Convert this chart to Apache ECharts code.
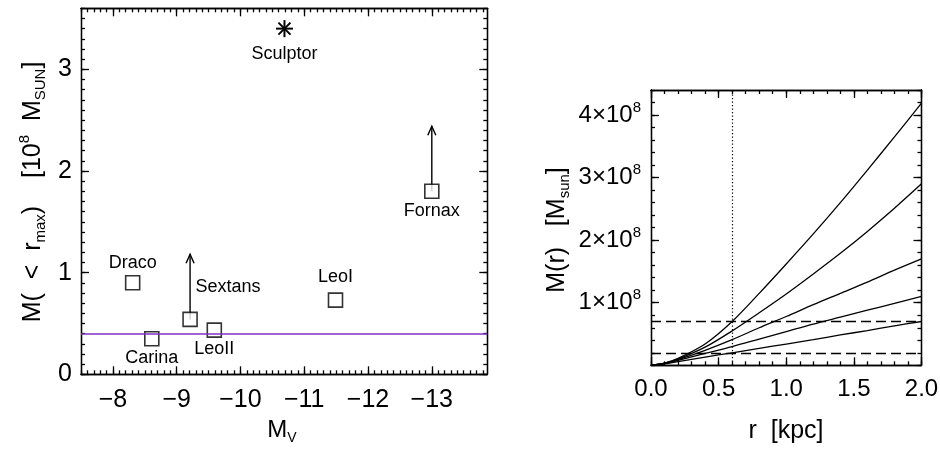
<!DOCTYPE html>
<html><head><meta charset="utf-8">
<script src="https://cdn.jsdelivr.net/npm/echarts@6/dist/echarts.min.js"></script>
<style>html,body{margin:0;padding:0;background:#fff}#c{width:940px;height:449px}</style>
</head><body><div id="c"></div>
<script>
// ---------- Left panel data (mass in 1e8 Msun) ----------
const galaxies = ['Draco', 'Carina', 'Sextans', 'LeoII', 'LeoI', 'Fornax'];
const galaxyMv = [-8.31, -8.61, -9.21, -9.59, -11.49, -13.0];
const galaxyMass = [0.90, 0.35, 0.54, 0.435, 0.73, 1.80];
const sculptorName = ['Sculptor'];
const sculptorMv = [-10.69];
const sculptorMass = [3.40];
const arrowMv = [-9.21, -13.0];
const arrowFrom = [0.54, 1.80];
const arrowTo = [1.18, 2.44];
const massThreshold = [0.40];
const leftXTicks = [-8, -9, -10, -11, -12, -13];
const leftYTicks = [0, 1, 2, 3];

// ---------- Right panel data (mass in 1e8 Msun) ----------
const radius = [0, 0.1, 0.2, 0.4, 0.6, 0.8, 1.0, 1.2, 1.4, 1.6, 1.8, 2.0];
const massCurve1 = [0, 0.035, 0.11, 0.34, 0.70, 1.15, 1.62, 2.10, 2.60, 3.12, 3.65, 4.19];
const massCurve2 = [0, 0.033, 0.10, 0.29, 0.55, 0.84, 1.14, 1.46, 1.79, 2.14, 2.51, 2.90];
const massCurve3 = [0, 0.030, 0.09, 0.24, 0.41, 0.60, 0.78, 0.97, 1.15, 1.33, 1.52, 1.70];
const massCurve4 = [0, 0.028, 0.08, 0.19, 0.30, 0.42, 0.54, 0.66, 0.77, 0.88, 0.99, 1.10];
const massCurve5 = [0, 0.025, 0.06, 0.13, 0.20, 0.27, 0.34, 0.41, 0.485, 0.555, 0.63, 0.70];
const massLimits = [0.2, 0.7];
const rLimit = [0.6];
const rightXTicks = [0, 0.5, 1.0, 1.5, 2.0];
const rightYTicks = [1, 2, 3, 4];

// ---------- styling ----------
const FONT = "'Liberation Sans', Arial, sans-serif";
const AX = { color: '#000', width: 1.3 };
const PURPLE = '#7b32c4';
const labelPlacement = {
  Draco: [0, -20], Carina: [0, 19], Sextans: [38, -32],
  LeoII: [0, 19], LeoI: [0, -23], Fornax: [0, 20]
};
const rich = {
  m: { fontSize: 24, lineHeight: 30, fontFamily: FONT, color: '#000' },
  s: { fontSize: 14, lineHeight: 14, verticalAlign: 'bottom', fontFamily: FONT, color: '#000' },
  p: { fontSize: 15, lineHeight: 15, verticalAlign: 'top', fontFamily: FONT, color: '#000' }
};
const richBig = {
  m: { fontSize: 25, lineHeight: 31, fontFamily: FONT, color: '#000' },
  s: { fontSize: 15, lineHeight: 15, verticalAlign: 'bottom', fontFamily: FONT, color: '#000' },
  p: { fontSize: 15, lineHeight: 15, verticalAlign: 'top', fontFamily: FONT, color: '#000' }
};

function steps(min, max, step) {
  const out = [];
  const start = Math.ceil(min / step - 1e-9);
  const end = Math.floor(max / step + 1e-9);
  for (let k = start; k <= end; k++) out.push(+(k * step).toFixed(6));
  return out;
}
function mkAxis(grid, pos, min, max, inverse, ticks, len, labelCfg) {
  return {
    type: 'value', gridIndex: grid, position: pos, min: min, max: max, inverse: !!inverse,
    axisLine: { show: true, onZero: false, lineStyle: AX },
    axisTick: { show: true, inside: true, length: len, customValues: ticks, lineStyle: AX },
    axisLabel: labelCfg ? Object.assign({ show: true, fontFamily: FONT, color: '#000', customValues: ticks }, labelCfg) : { show: false },
    splitLine: { show: false }, minorTick: { show: false }, minorSplitLine: { show: false }
  };
}

const LX = [-13.87, -7.5], LY = [0, 3.6], RX = [0, 2], RY = [0, 4.4];
const lxMinor = steps(LX[0], LX[1], 0.1), lyMinor = steps(LY[0], LY[1], 0.1);
const rxMinor = steps(RX[0], RX[1], 0.1), ryMinor = steps(RY[0], RY[1], 0.2);

const xAxes = [
  mkAxis(0, 'bottom', LX[0], LX[1], true, leftXTicks, 8, { fontSize: 25, margin: 13, formatter: v => '\u2212' + Math.abs(v) }),
  mkAxis(0, 'bottom', LX[0], LX[1], true, lxMinor, 4),
  mkAxis(0, 'top', LX[0], LX[1], true, leftXTicks, 8),
  mkAxis(0, 'top', LX[0], LX[1], true, lxMinor, 4),
  mkAxis(1, 'bottom', RX[0], RX[1], false, rightXTicks, 8, { fontSize: 24, margin: 12, formatter: v => v.toFixed(1) }),
  mkAxis(1, 'bottom', RX[0], RX[1], false, rxMinor, 4),
  mkAxis(1, 'top', RX[0], RX[1], false, rightXTicks, 8),
  mkAxis(1, 'top', RX[0], RX[1], false, rxMinor, 4)
];
const yAxes = [
  mkAxis(0, 'left', LY[0], LY[1], false, leftYTicks, 8, { fontSize: 25, margin: 9 }),
  mkAxis(0, 'left', LY[0], LY[1], false, lyMinor, 4),
  mkAxis(0, 'right', LY[0], LY[1], false, leftYTicks, 8),
  mkAxis(0, 'right', LY[0], LY[1], false, lyMinor, 4),
  mkAxis(1, 'left', RY[0], RY[1], false, rightYTicks, 8, { margin: 10, formatter: v => '{m|' + v + '\u00d710}{p|8}', rich: rich }),
  mkAxis(1, 'left', RY[0], RY[1], false, ryMinor, 4),
  mkAxis(1, 'right', RY[0], RY[1], false, rightYTicks, 8),
  mkAxis(1, 'right', RY[0], RY[1], false, ryMinor, 4)
];

const curves = [massCurve1, massCurve2, massCurve3, massCurve4, massCurve5];
const curveSeries = curves.map((c, k) => ({
  type: 'line', xAxisIndex: 4, yAxisIndex: 4, showSymbol: false, smooth: 0.3,
  data: radius.map((r, i) => [r, c[i]]),
  lineStyle: { color: '#000', width: 1.3 }, silent: true,
  markLine: k === 0 ? {
    silent: true, symbol: 'none', label: { show: false },
    data: [
      { yAxis: massLimits[0], lineStyle: { color: '#000', width: 1.3, type: [10, 5] } },
      { yAxis: massLimits[1], lineStyle: { color: '#000', width: 1.3, type: [10, 5] } },
      { xAxis: rLimit[0], lineStyle: { color: '#000', width: 1.2, type: [1.3, 2.2] } }
    ]
  } : undefined
}));

const option = {
  animation: false,
  backgroundColor: '#fff',
  grid: [
    { left: 81, top: 8.3, width: 406.3, height: 366, outerBoundsMode: 'none', containLabel: false },
    { left: 651, top: 90, width: 270.5, height: 275.3, outerBoundsMode: 'none', containLabel: false }
  ],
  xAxis: xAxes,
  yAxis: yAxes,
  series: [
    {
      type: 'custom', xAxisIndex: 0, yAxisIndex: 0, silent: true, z: 2,
      data: arrowMv.map((x, i) => [x, arrowFrom[i], arrowTo[i]]),
      encode: { x: 0, y: [1, 2] },
      renderItem: function (params, api) {
        const p0 = api.coord([api.value(0), api.value(1)]);
        const p1 = api.coord([api.value(0), api.value(2)]);
        const h = 9, w = 4;
        return {
          type: 'group', children: [
            { type: 'line', shape: { x1: p0[0], y1: p0[1], x2: p1[0], y2: p1[1] }, style: { stroke: '#000', lineWidth: 1.4 } },
            { type: 'polyline', shape: { points: [[p1[0] - w, p1[1] + h], [p1[0], p1[1]], [p1[0] + w, p1[1] + h]] }, style: { stroke: '#000', fill: null, lineWidth: 1.4 } }
          ]
        };
      }
    },
    {
      type: 'scatter', xAxisIndex: 0, yAxisIndex: 0, symbol: 'rect', symbolSize: 14, z: 3, silent: true,
      itemStyle: { color: '#fff', borderColor: '#000', borderWidth: 1.6 },
      data: galaxies.map((n, i) => ({ name: n, value: [galaxyMv[i], galaxyMass[i]] })),
      markLine: {
        silent: true, symbol: 'none', label: { show: false },
        data: [{ yAxis: massThreshold[0] }],
        lineStyle: { color: PURPLE, width: 1.5, type: 'solid' }
      }
    },
    {
      type: 'custom', xAxisIndex: 0, yAxisIndex: 0, silent: true, z: 4,
      data: galaxies.map((n, i) => [galaxyMv[i], galaxyMass[i]]),
      renderItem: function (params, api) {
        const p = api.coord([api.value(0), api.value(1)]);
        const n = galaxies[params.dataIndex];
        const off = labelPlacement[n];
        return { type: 'text', x: p[0] + off[0], y: p[1] + off[1], style: { text: n, fontSize: 18, fontFamily: FONT, fill: '#000', align: 'center', verticalAlign: 'middle' } };
      }
    },
    {
      type: 'custom', xAxisIndex: 0, yAxisIndex: 0, silent: true, z: 3,
      data: sculptorMv.map((x, i) => [x, sculptorMass[i]]),
      renderItem: function (params, api) {
        const p = api.coord([api.value(0), api.value(1)]);
        const r = 8.5, d = r * 0.7071;
        const st = { stroke: '#000', lineWidth: 2 };
        return {
          type: 'group', children: [
            { type: 'line', shape: { x1: p[0] - r, y1: p[1], x2: p[0] + r, y2: p[1] }, style: st },
            { type: 'line', shape: { x1: p[0], y1: p[1] - r, x2: p[0], y2: p[1] + r }, style: st },
            { type: 'line', shape: { x1: p[0] - d, y1: p[1] - d, x2: p[0] + d, y2: p[1] + d }, style: st },
            { type: 'line', shape: { x1: p[0] - d, y1: p[1] + d, x2: p[0] + d, y2: p[1] - d }, style: st },
            { type: 'text', x: p[0], y: p[1] + 25, style: { text: sculptorName[params.dataIndex], fontSize: 18, fontFamily: FONT, fill: '#000', align: 'center', verticalAlign: 'middle' } }
          ]
        };
      }
    }
  ].concat(curveSeries),
  graphic: [
    { type: 'text', x: 33, y: 192, rotation: Math.PI / 2, style: { text: '{m|M(  <  r}{s|max}{m|)    [10}{p|8}{m|  M}{s|SUN}{m|]}', rich: richBig, align: 'center', verticalAlign: 'middle' } },
    { type: 'text', x: 282, y: 430, style: { text: '{m|M}{s|V}', rich: rich, align: 'center', verticalAlign: 'middle' } },
    { type: 'text', x: 557, y: 230, rotation: Math.PI / 2, style: { text: '{m|M(r)   [M}{s|sun}{m|]}', rich: richBig, align: 'center', verticalAlign: 'middle' } },
    { type: 'text', x: 786, y: 431, style: { text: '{m|r  [kpc]}', rich: richBig, align: 'center', verticalAlign: 'middle' } }
  ]
};
const chart = echarts.init(document.getElementById('c'), null, { renderer: 'canvas' });
chart.setOption(option);
</script>
</body></html>
